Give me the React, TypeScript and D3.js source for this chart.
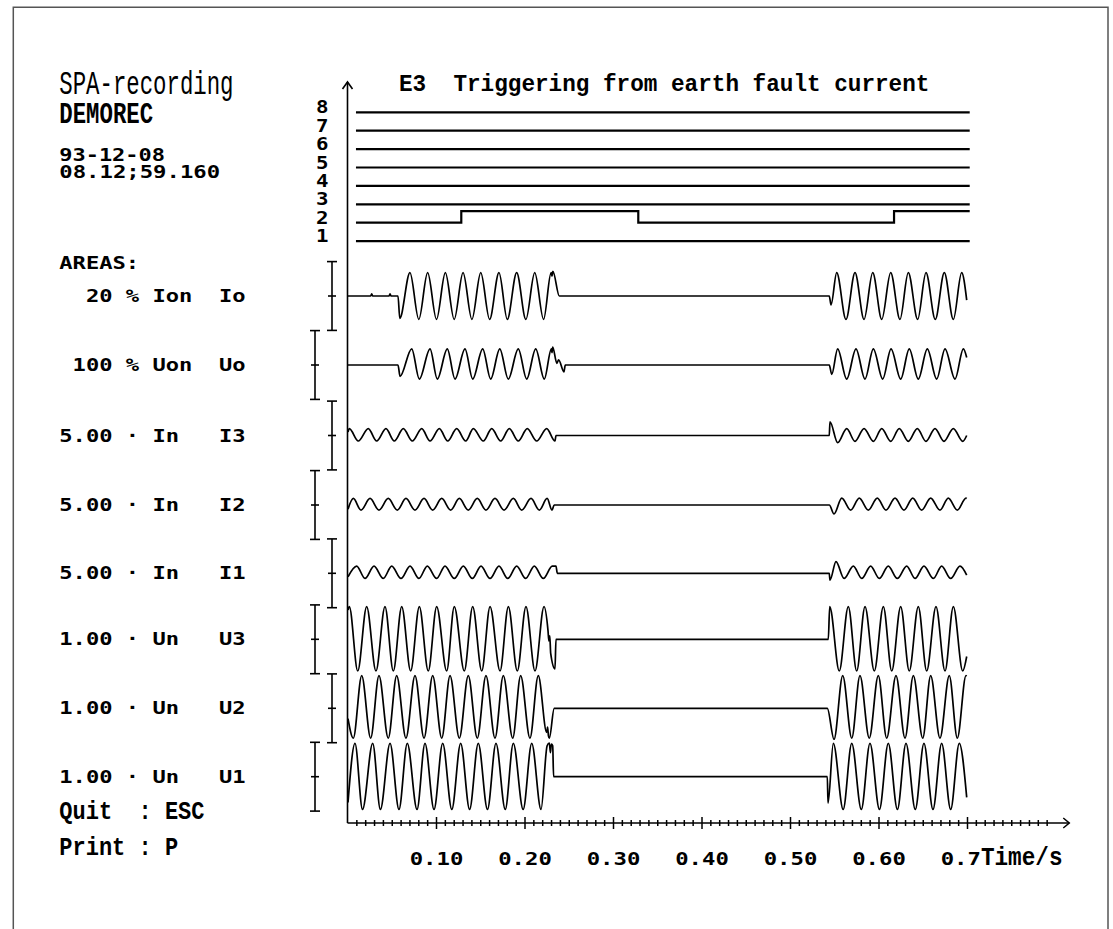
import React from 'react';
import * as d3 from 'd3';

// ---------------- text content ----------------
const titleText = 'E3  Triggering from earth fault current';
const headerLines = ['SPA-recording', 'DEMOREC'];
const dateLines = ['93-12-08', '08.12;59.160'];
const areasLabel = 'AREAS:';
const channelLabels = [
  '  20 % Ion  Io',
  ' 100 % Uon  Uo',
  '5.00 · In   I3',
  '5.00 · In   I2',
  '5.00 · In   I1',
  '1.00 · Un   U3',
  '1.00 · Un   U2',
  '1.00 · Un   U1',
];
const footerLines = ['Quit  : ESC', 'Print : P'];
const binaryLabels = ['8', '7', '6', '5', '4', '3', '2', '1'];
const tickValues = [100, 200, 300, 400, 500, 600, 700]; // ms
const tickLabels = ['0.10', '0.20', '0.30', '0.40', '0.50', '0.60', '0.7'];
const axisUnit = 'Time/s';

// ---------------- binary channels: [ms, state] ----------------
const binFlat: [number, number][] = [[9, 0], [702.5, 0]];
const bin2: [number, number][] = [[9, 0], [128, 1], [328, 0], [617, 1], [702.5, 1]];
const binaryChannels = [binFlat, binFlat, binFlat, binFlat, binFlat, binFlat, bin2, binFlat]; // 8..1

// ---------------- analog channels: [ms, value in area units] ----------------
const Io: [number, number][] = [
  [0, 0], [25.5, 0], [26.8, 0.06], [28, 0], [46.3, 0], [47.5, 0.06], [48.7, 0], [56.5, 0],
  [58.5, -0.65], [70, 0.68], [80, -0.68], [90, 0.68], [100, -0.68], [110, 0.68], [120, -0.68], [130, 0.68],
  [140, -0.68], [150, 0.68], [160, -0.68], [170.6, 0.68], [180, -0.68], [190.6, 0.68], [201, -0.68], [211, 0.68],
  [221, -0.68], [229.5, 0.68], [230.5, 0.58], [231.5, 0.72], [238.8, 0],
  [543.8, 0], [545.8, -0.26], [552.2, 0.68], [562.7, -0.68], [572.9, 0.68], [583.1, -0.68], [592.9, 0.68],
  [603.1, -0.68], [613.2, 0.68], [623.7, -0.68], [633.1, 0.68], [643.7, -0.68], [653.1, 0.68], [663.6, -0.68],
  [673.8, 0.68], [684, -0.68], [693.4, 0.68], [699.1, -0.12],
];
const Uo: [number, number][] = [
  [0, 0], [56.5, 0], [58.8, -0.33], [72, 0.47], [80.6, -0.41], [92.7, 0.47], [100.9, -0.41], [112.2, 0.47],
  [120.9, -0.41], [132.2, 0.47], [140.9, -0.41], [152.2, 0.47], [161.2, -0.41], [171.5, 0.47], [181.1, -0.41],
  [192.4, 0.47], [201.9, -0.41], [212.1, 0.47], [221.8, -0.41], [229.8, 0.47], [230.5, 0.36], [231.3, 0.52],
  [236, 0.05], [238, 0.15], [244, -0.2], [245.5, 0],
  [543.8, 0], [546.6, -0.27], [553.3, 0.47], [563.5, -0.41], [574, 0.47], [584.2, -0.41], [593.6, 0.47],
  [604.2, -0.41], [613.6, 0.47], [624.5, -0.41], [634.2, 0.47], [644.4, -0.41], [654.6, 0.47], [665.2, -0.41],
  [674.6, 0.47], [685.9, -0.41], [695.3, 0.47], [699.1, 0.22],
];
const I3: [number, number][] = [
  [0, 0.1], [1.5, 0.2], [11.6, -0.16], [22.9, 0.2], [32.4, -0.16], [42.9, 0.2], [52.3, -0.16], [62.5, 0.2],
  [72.7, -0.16], [83.3, 0.2], [92.7, -0.16], [103.2, 0.2], [112.7, -0.16], [122.8, 0.2], [133, -0.16],
  [141.6, 0.2], [152.9, -0.16], [162.4, 0.2], [172.5, -0.16], [182.3, 0.2], [192.4, -0.16], [202.6, 0.2],
  [213.2, -0.16], [224.5, 0.2], [233.9, -0.16], [235, 0],
  [543.8, 0], [544.6, 0.4], [553.3, -0.21], [563.5, 0.2], [572.9, -0.17], [583.1, 0.2], [593.6, -0.17],
  [603.1, 0.2], [613.2, -0.17], [622.9, 0.2], [633.1, -0.17], [643.3, 0.2], [653.1, -0.17], [663.3, 0.2],
  [673.4, -0.17], [684, 0.2], [694.6, -0.17], [699.1, 0],
];
const I2: [number, number][] = [
  [0, -0.12], [6, 0.19], [14.7, -0.15], [24.9, 0.19], [35, -0.15], [45.5, 0.19], [55.7, -0.15], [65.5, 0.19],
  [75.7, -0.15], [85.9, 0.19], [95.7, -0.15], [105.9, 0.19], [116, -0.15], [125.8, 0.19], [135.9, -0.15],
  [146.1, 0.19], [155.9, -0.15], [166.1, 0.19], [176.3, -0.15], [186.8, 0.19], [196.3, -0.15], [206.8, 0.19],
  [216.2, -0.15], [225, 0.19], [230.5, -0.15], [233, 0],
  [543.8, 0], [549.2, -0.26], [557.9, 0.2], [568, -0.15], [577.7, 0.2], [587.9, -0.15], [598.1, 0.2],
  [607.9, -0.15], [618.1, 0.2], [628.2, -0.15], [638.1, 0.2], [648.2, -0.15], [658.4, 0.2], [668.9, -0.15],
  [678.3, 0.2], [688.5, -0.15], [698.3, 0.2], [699.1, 0.19],
];
const I1: [number, number][] = [
  [0, -0.1], [9.8, 0.21], [19.2, -0.15], [29.4, 0.21], [39.9, -0.15], [49.4, 0.21], [59.9, -0.15], [70.1, 0.21],
  [80.2, -0.15], [89.6, 0.21], [100.2, -0.15], [109.6, 0.21], [120.1, -0.15], [130.3, 0.21], [140.5, -0.15],
  [150.3, 0.21], [160.5, -0.15], [170.6, 0.21], [180.5, -0.15], [190.6, 0.21], [200.8, -0.15], [210.5, 0.21],
  [220.7, -0.15], [230.8, 0.21], [235, 0.21], [236.5, 0],
  [543.8, 0], [544.6, -0.2], [551.4, 0.34], [560.5, -0.15], [571, 0.21], [580.5, -0.15], [590.6, 0.21],
  [600.3, -0.15], [610.5, 0.21], [620.7, -0.15], [631.3, 0.21], [640.7, -0.15], [650.8, 0.21], [661.5, -0.15],
  [670.8, 0.21], [681, -0.15], [691.5, 0.21], [699.1, -0.05],
];
const U3: [number, number][] = [
  [0, 0.85], [1.5, 0.95], [11, -0.92], [21.1, 0.95], [31.6, -0.92], [41.8, 0.95], [51.2, -0.92], [60.7, 0.95],
  [70.8, -0.92], [80.6, 0.95], [90.7, -0.92], [100.2, 0.95], [111.5, -0.92], [120.1, 0.95], [131.4, -0.92],
  [140.9, 0.95], [151.1, -0.92], [160.5, 0.95], [171.8, -0.92], [181.2, 0.95], [191.3, -0.92], [201.1, 0.95],
  [211.3, -0.92], [221.5, 0.95], [226, 0.25], [227, -0.05], [228, 0.1], [229, -0.4], [233.9, -0.86], [235, 0],
  [542.7, 0], [544.3, 0.95], [555.1, -0.92], [565.3, 0.95], [574.8, -0.92], [584.2, 0.95], [594.7, -0.92],
  [604.9, 0.95], [614.4, -0.92], [624.5, 0.95], [634.2, -0.92], [644.4, 0.95], [653.9, -0.92], [664.4, 0.95],
  [674.6, -0.92], [684, 0.95], [694.6, -0.92], [699.1, -0.5],
];
const U2: [number, number][] = [
  [0, -0.3], [6, -0.87], [15.5, 0.95], [25.6, -0.87], [35, 0.95], [45.5, -0.87], [55, 0.95], [65.5, -0.87],
  [75.7, 0.95], [85.9, -0.87], [95.7, 0.95], [105.9, -0.87], [115.3, 0.95], [125.8, -0.87], [135.9, 0.95],
  [146.1, -0.87], [155.9, 0.95], [166.1, -0.87], [175.5, 0.95], [186.1, -0.87], [195.1, 0.95], [205.6, -0.87],
  [215, 0.95], [224.5, -0.7], [225.5, -0.55], [226.5, -0.8], [227.5, -0.87], [233, 0],
  [541.6, 0], [549.2, -0.9], [559, 0.95], [569.2, -0.87], [578.5, 0.95], [589, -0.87], [599.2, 0.95],
  [608.7, -0.87], [619.2, 0.95], [629.4, -0.87], [638.8, 0.95], [649.4, -0.87], [658.4, 0.95], [668.9, -0.87],
  [679.4, 0.95], [688.5, -0.87], [698.3, 0.95], [699.1, 0.94],
];
const U1: [number, number][] = [
  [0, -0.75], [7.9, 0.97], [16.4, -0.95], [27.9, 0.97], [36.6, -0.95], [47.5, 0.97], [57.6, -0.95], [67, 0.97],
  [78, -0.95], [87, 0.97], [97.2, -0.95], [107, 0.97], [117.3, -0.95], [127.3, 0.97], [137.4, -0.95],
  [147.2, 0.97], [157.6, -0.95], [167.2, 0.97], [177.7, -0.95], [186.8, 0.97], [197.9, -0.95], [207.6, 0.97],
  [218.1, -0.95], [225, 0.9], [227.5, 0.98], [228.7, 0.7], [229.8, 0.95], [231.3, 0.9], [232.3, 0],
  [541.6, 0], [542.4, -0.77], [548.4, 0.97], [559.5, -0.95], [569.2, 0.97], [580, -0.95], [589.8, 0.97],
  [600.5, -0.95], [610.5, 0.97], [620.8, -0.95], [630.5, 0.97], [641, -0.95], [650.8, 0.97], [661, -0.95],
  [670.8, 0.97], [681, -0.95], [690.7, 0.97], [699.1, -0.6],
];
const analogChannels = [Io, Uo, I3, I2, I1, U3, U2, U1];

// ---------------- layout ----------------
const W = 1113;
const H = 929;
const X0 = 348;
const AXIS_Y = 823;
const panelCenters = [296, 365, 435.5, 505, 573.3, 639.3, 708.3, 776.7];
const HALF = 34.4;
const BIN_TOP = 112.3;
const BIN_STEP = 18.4;
const BIN_HIGH = 11.5;

const MONO = '"DejaVu Sans Mono", monospace';
const SERIF = '"Liberation Mono", "Courier New", monospace';

function runs(str: string) {
  const out: { col: number; s: string }[] = [];
  const re = /\S+/g;
  let m: RegExpExecArray | null;
  while ((m = re.exec(str))) out.push({ col: m.index, s: m[0] });
  return out;
}

function Cells(props: {
  x: number; y: number; str: string; cw: number; font: string; size: number; weight?: string | number;
}) {
  const { x, y, str, cw, font, size, weight = 'bold' } = props;
  return (
    <g>
      {runs(str).map((r, i) => (
        <text
          key={i}
          x={x + r.col * cw}
          y={y}
          textLength={r.s.length * cw}
          lengthAdjust="spacingAndGlyphs"
          fontFamily={font}
          fontSize={size}
          fontWeight={weight}
          fill="#000"
        >
          {r.s}
        </text>
      ))}
    </g>
  );
}

export default function App() {
  const x = d3.scaleLinear().domain([0, 700]).range([X0, 967.5]);
  const cw = 13.3;
  const LX = 59.3;

  const minorTicks = d3.range(10, 810, 10).filter((t) => t % 100 !== 0);

  return (
    <svg
      width={W}
      height={H}
      viewBox={`0 0 ${W} ${H}`}
      style={{ position: 'absolute', left: 0, top: 0, background: '#fff' }}
    >
      <rect x={0} y={0} width={W} height={H} fill="#fff" />
      {/* frame */}
      <path d={`M13.3,${H} V7.3 H1108 V${H}`} fill="none" stroke="#555" strokeWidth={1.5} />

      {/* header texts */}
      <Cells x={LX} y={94.3} str={headerLines[0]} cw={13.4} font={SERIF} size={34} weight="normal" />
      <Cells x={LX} y={123.3} str={headerLines[1]} cw={13.4} font={SERIF} size={30} weight="bold" />
      <Cells x={LX} y={160.7} str={dateLines[0]} cw={13.2} font={MONO} size={17.5} />
      <Cells x={LX} y={178} str={dateLines[1]} cw={13.4} font={MONO} size={17.5} />
      <Cells x={LX} y={269.3} str={areasLabel} cw={cw} font={MONO} size={18.5} />

      {/* title */}
      <Cells x={399} y={90.7} str={titleText} cw={13.6} font={SERIF} size={24.5} weight="bold" />

      {/* binary channel labels and lines */}
      {binaryLabels.map((lab, i) => (
        <text
          key={'bl' + i}
          x={316}
          y={BIN_TOP + i * BIN_STEP + 1}
          textLength={12.5}
          lengthAdjust="spacingAndGlyphs"
          fontFamily={MONO}
          fontSize={17.5}
          fontWeight="bold"
          fill="#000"
        >
          {lab}
        </text>
      ))}
      {binaryChannels.map((data, i) => {
        const base = BIN_TOP + i * BIN_STEP;
        const line = d3
          .line<[number, number]>()
          .x((d) => x(d[0]))
          .y((d) => base - d[1] * BIN_HIGH)
          .curve(d3.curveStepAfter);
        return (
          <path key={'bin' + i} d={line(data) || ''} fill="none" stroke="#000" strokeWidth={2.2} />
        );
      })}

      {/* analog channel labels, brackets, traces */}
      {analogChannels.map((data, i) => {
        const c = panelCenters[i];
        const y = d3.scaleLinear().domain([-1, 1]).range([c + HALF, c - HALF]);
        const line = d3
          .line<[number, number]>()
          .x((d) => x(d[0]))
          .y((d) => y(d[1]))
          .curve(d3.curveMonotoneX);
        const bx = i % 2 === 0 ? 332 : 315;
        return (
          <g key={'ch' + i}>
            <Cells x={LX} y={c + 6} str={channelLabels[i]} cw={cw} font={MONO} size={18.5} />
            <g stroke="#000" strokeWidth={1.6}>
              <line x1={bx} x2={bx} y1={y(-1)} y2={y(1)} />
              <line x1={bx - 5} x2={bx + 5} y1={y(1)} y2={y(1)} />
              <line x1={bx - 5} x2={bx + 5} y1={y(-1)} y2={y(-1)} />
              <line x1={bx - 4} x2={bx + 4} y1={y(0)} y2={y(0)} />
            </g>
            <path d={line(data) || ''} fill="none" stroke="#000" strokeWidth={1.7} strokeLinejoin="round" />
          </g>
        );
      })}

      {/* footer */}
      <Cells x={LX} y={819} str={footerLines[0]} cw={13.2} font={SERIF} size={26} weight="bold" />
      <Cells x={LX} y={855} str={footerLines[1]} cw={13.2} font={SERIF} size={26} weight="bold" />

      {/* y axis */}
      <g stroke="#000" strokeWidth={1.6} fill="none">
        <line x1={X0 - 0.5} x2={X0 - 0.5} y1={82} y2={AXIS_Y} />
        <polyline points={`${X0 - 5.5},89 ${X0 - 0.5},82 ${X0 + 4.5},89`} />
      </g>

      {/* x axis */}
      <g stroke="#000" strokeWidth={1.5} fill="none">
        <line x1={X0 - 0.5} x2={x(815)} y1={AXIS_Y} y2={AXIS_Y} />
        <polyline points={`${x(815) - 6},${AXIS_Y - 5} ${x(815)},${AXIS_Y} ${x(815) - 6},${AXIS_Y + 5}`} />
        {minorTicks.map((t) => (
          <line key={'mt' + t} x1={x(t)} x2={x(t)} y1={AXIS_Y - 3} y2={AXIS_Y + 3} />
        ))}
        {tickValues.map((t) => (
          <line key={'Mt' + t} x1={x(t)} x2={x(t)} y1={AXIS_Y - 6} y2={AXIS_Y + 6} />
        ))}
      </g>
      {tickValues.map((t, i) => (
        <Cells key={'tl' + t} x={x(t) - 2 * 13.4} y={865} str={tickLabels[i]} cw={13.4} font={MONO} size={18.5} />
      ))}
      <Cells
        x={x(700) - 2 * 13.4 + 3 * 13.4}
        y={865}
        str={axisUnit}
        cw={13.6}
        font={SERIF}
        size={26}
        weight="bold"
      />
    </svg>
  );
}
